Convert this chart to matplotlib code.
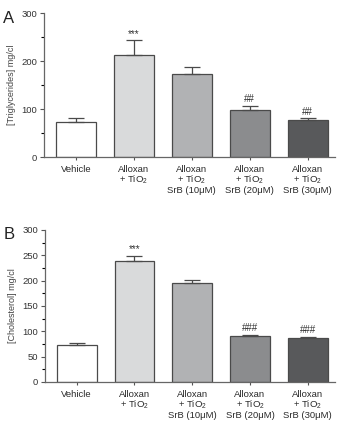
import numpy as np
import matplotlib
matplotlib.use("Agg")
import matplotlib.pyplot as plt
from matplotlib.ticker import MultipleLocator

groups = ["Vehicle", "Alloxan\n+ TiO$_2$", "Alloxan\n+ TiO$_2$\nSrB (10μM)",
          "Alloxan\n+ TiO$_2$\nSrB (20μM)", "Alloxan\n+ TiO$_2$\nSrB (30μM)"]
bar_colors = ["#ffffff", "#d9dadb", "#b1b2b4", "#8b8c8e", "#58595b"]

trig_mean = [74, 213, 172, 98, 78]
trig_err = [8, 30, 16, 9, 3]
trig_marks = ["", "***", "", "##", "##"]

chol_mean = [72, 239, 195, 90, 86]
chol_err = [5, 10, 6, 3, 3]
chol_marks = ["", "***", "", "###", "###"]

plt.rcParams["font.family"] = ["Liberation Sans", "DejaVu Sans"]
plt.rcParams["mathtext.fontset"] = "custom"
plt.rcParams["mathtext.rm"] = "Liberation Sans"
fig = plt.figure(figsize=(3.38, 4.21), dpi=100)

edge = "#4a4a4a"


def panel(rect, means, errs, marks, ylabel, major, minor, letter):
    ax = fig.add_axes(rect)
    x = np.arange(len(means))
    ax.bar(x, means, width=0.69, color=bar_colors, edgecolor=edge, linewidth=0.9, zorder=2)
    ax.errorbar(x, means, yerr=[np.zeros(len(errs)), errs], fmt="none",
                ecolor=edge, elinewidth=0.9, capsize=6, capthick=0.9, zorder=3)
    for xi, m, e, s in zip(x, means, errs, marks):
        if s:
            ax.text(xi, m + e + 3, s, ha="center", va="bottom", fontsize=7, color="#333333")
    ax.set_xlim(-0.55, 4.47)
    ax.set_ylim(0, 300)
    ax.yaxis.set_major_locator(MultipleLocator(major))
    ax.yaxis.set_minor_locator(MultipleLocator(minor))
    ax.set_xticks(x)
    ax.set_xticklabels(groups, fontsize=6.8, color="#2a2a2a", linespacing=0.95)
    ax.tick_params(axis="y", labelsize=6.8, colors="#555555", labelcolor="#333333",
                   length=3, width=0.8, pad=2)
    ax.tick_params(axis="y", which="minor", length=2, width=0.8)
    ax.tick_params(axis="x", length=2, width=0.8, colors="#555555", labelcolor="#2a2a2a", pad=4)
    ax.set_ylabel(ylabel, fontsize=6.5, color="#444444", labelpad=4)
    for sp in ["top", "right"]:
        ax.spines[sp].set_visible(False)
    for sp in ["left", "bottom"]:
        ax.spines[sp].set_color("#666666")
        ax.spines[sp].set_linewidth(0.9)
    fig.text(0.01, rect[1] + rect[3] - 0.012, letter, fontsize=12, color="#222222",
             va="center", ha="left")
    return ax


panel([0.130, 0.627, 0.861, 0.342], trig_mean, trig_err, trig_marks,
      "[Triglycerides] mg/cl", 100, 50, "A")
panel([0.133, 0.093, 0.858, 0.361], chol_mean, chol_err, chol_marks,
      "[Cholesterol] mg/cl", 50, 25, "B")

fig.savefig("out.png", dpi=100)
